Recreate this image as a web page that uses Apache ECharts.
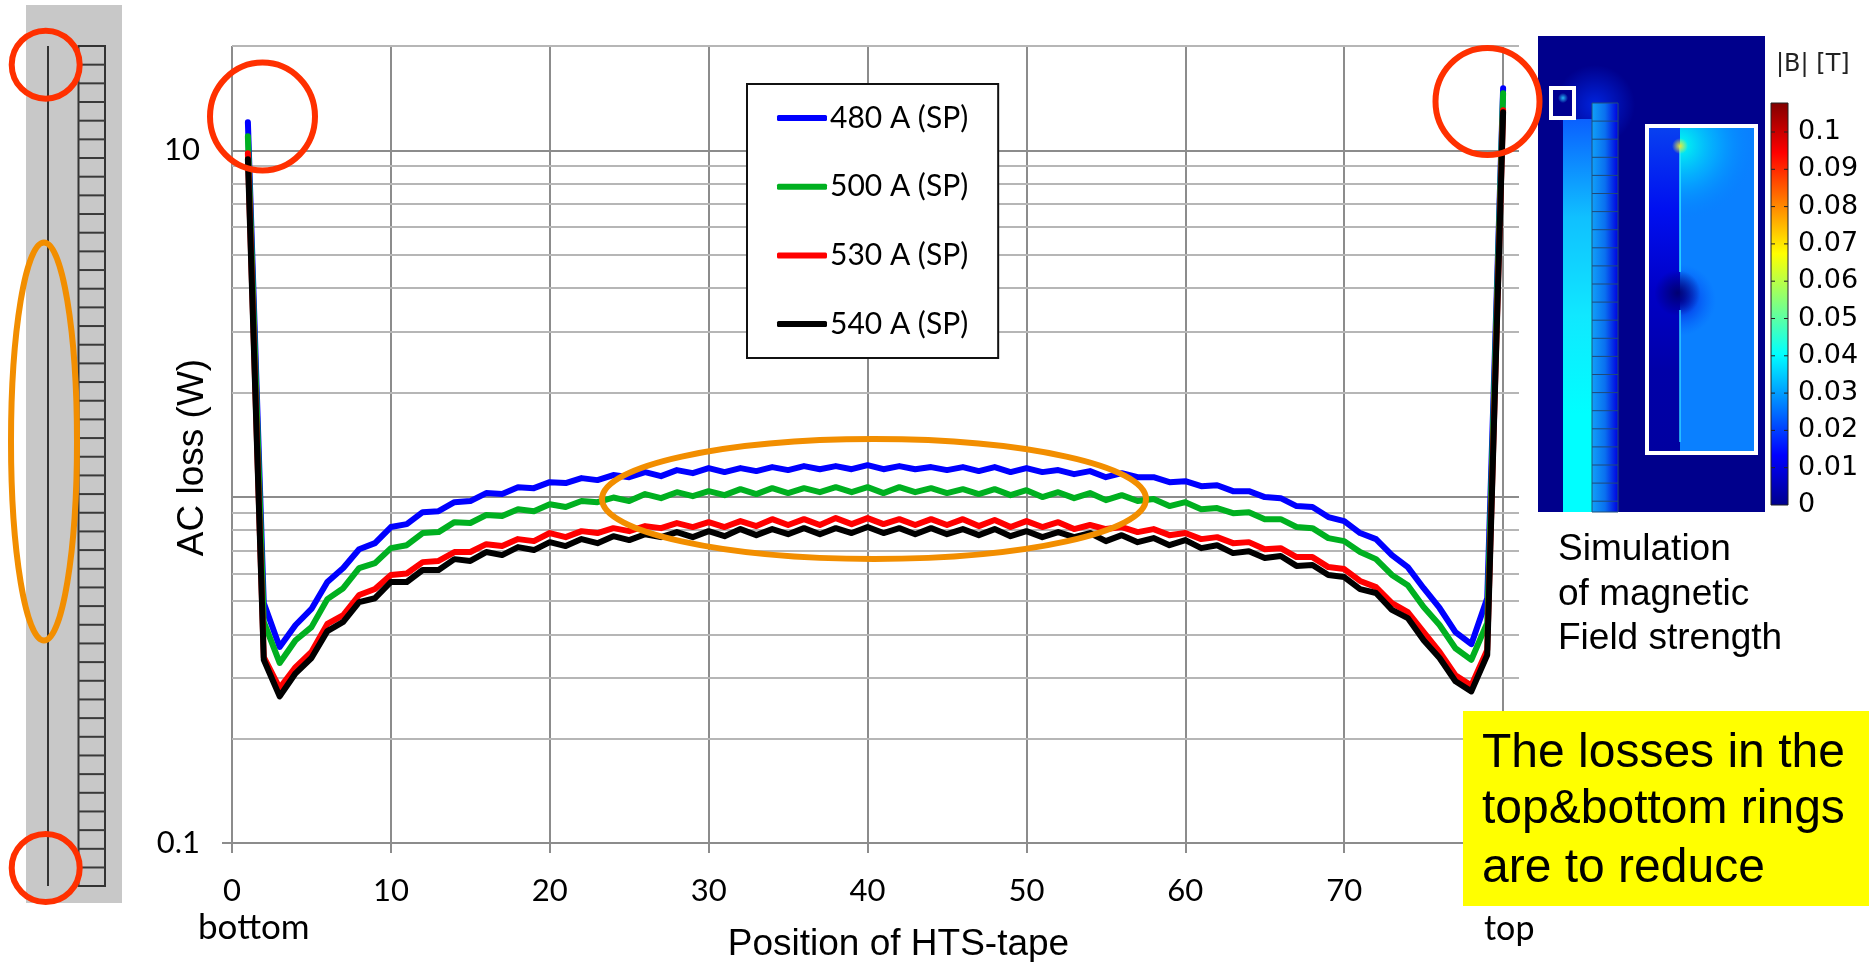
<!DOCTYPE html>
<html><head><meta charset="utf-8">
<style>html,body{margin:0;padding:0;background:#fff}#c{width:1869px;height:962px}</style>
<script src="https://cdn.jsdelivr.net/npm/echarts@6/dist/echarts.min.js"></script>
</head><body><div id="c"></div>
<script>
const seriesNames = ['480 A (SP)', '500 A (SP)', '530 A (SP)', '540 A (SP)'];
const seriesColors = ['#0000ff', '#00b020', '#ff0000', '#000000'];
const xTicks = [0, 10, 20, 30, 40, 50, 60, 70, 80];
const yLabelled = [0.1, 10];
const yMinorGrid = [0.2, 0.3, 0.4, 0.5, 0.6, 0.7, 0.8, 0.9, 2, 3, 4, 5, 6, 7, 8, 9, 20];
const colorbarLabels = ['0.1', '0.09', '0.08', '0.07', '0.06', '0.05', '0.04', '0.03', '0.02', '0.01', '0'];

const loss480 = [12.05,.493,.368,.426,.474,.567,.622,.705,.734,.817,.833,.902,.908,.964,.971,1.024,1.017,1.065,1.058,1.101,
1.094,1.131,1.116,1.154,1.138,1.177,1.146,1.193,1.169,1.209,1.177,1.209,1.185,1.217,1.193,1.225,1.2,1.225,1.2,1.233,
1.2,1.225,1.2,1.217,1.193,1.217,1.185,1.217,1.177,1.209,1.177,1.193,1.161,1.185,1.138,1.169,1.138,1.138,1.101,1.108,
1.072,1.079,1.037,1.037,.997,.99,.939,.933,.873,.85,.785,.754,.678,.626,.544,.477,.406,.375,.509,15.1];
const loss500 = [10.97,.435,.331,.385,.42,.506,.544,.622,.643,.71,.724,.785,.79,.844,.839,.885,.879,.92,.908,.951,
.933,.971,.964,.994,.971,1.017,.99,1.03,1.003,1.037,1.01,1.051,1.017,1.058,1.024,1.058,1.03,1.065,1.03,1.065,
1.024,1.065,1.03,1.058,1.024,1.051,1.017,1.051,1.01,1.044,.997,1.03,.99,1.024,.977,1.01,.971,.984,.939,.964,
.92,.927,.896,.902,.861,.861,.817,.811,.759,.744,.692,.66,.594,.555,.48,.426,.365,.338,.432,14.6];
const loss530 = [9.8,.344,.28,.322,.356,.429,.455,.52,.541,.594,.6,.647,.652,.692,.692,.729,.72,.754,.744,.785,
.764,.795,.785,.811,.795,.822,.811,.839,.817,.844,.817,.85,.822,.861,.828,.861,.828,.867,.833,.867,
.833,.861,.828,.861,.828,.861,.822,.856,.817,.85,.817,.844,.806,.828,.806,.817,.79,.806,.774,.785,
.754,.764,.734,.739,.705,.71,.669,.669,.626,.618,.571,.548,.493,.464,.406,.356,.305,.285,.361,13.05];
const loss540 = [9.42,.338,.265,.309,.342,.409,.435,.496,.509,.567,.567,.614,.614,.66,.652,.692,.678,.715,.701,.739,
.72,.754,.734,.769,.749,.779,.764,.79,.764,.795,.769,.806,.774,.806,.779,.811,.779,.811,.785,.817,
.785,.811,.779,.811,.779,.806,.774,.806,.769,.795,.764,.79,.764,.785,.744,.774,.739,.759,.724,.749,
.71,.724,.687,.696,.665,.674,.631,.635,.594,.586,.541,.527,.471,.446,.385,.342,.293,.274,.349,12.87];
const allLoss = [loss480, loss500, loss530, loss540];

const SANS = '"Liberation Sans", Arial, sans-serif';
const CAL = 'Lato, sans-serif';

function rect(x, y, w, h, fill, extra) {
  return Object.assign({type: 'rect', z: 50, silent: true, shape: {x, y, width: w, height: h}, style: {fill}}, extra || {});
}
function seg(x1, y1, x2, y2, stroke, lineWidth, z) {
  return {type: 'line', z: z || 50, silent: true, shape: {x1, y1, x2, y2}, style: {stroke, lineWidth}};
}
function ell(cx, cy, rx, ry, stroke) {
  return {type: 'ellipse', z: 60, silent: true, shape: {cx, cy, rx, ry}, style: {fill: 'transparent', stroke, lineWidth: 6}};
}
function txt(text, x, y, font, size, extra) {
  return {type: 'text', z: 55, silent: true, x, y,
    style: Object.assign({text, fontFamily: font, fontSize: size, fill: '#000', verticalAlign: 'middle'}, extra || {})};
}
const hGrad = (stops) => ({type: 'linear', x: 0, y: 0, x2: 1, y2: 0, colorStops: stops.map((c, i) => ({offset: i / (stops.length - 1), color: c}))});
const vGrad = (stops) => ({type: 'linear', x: 0, y: 0, x2: 0, y2: 1, colorStops: stops.map((c, i) => ({offset: i / (stops.length - 1), color: c}))});
const glow = (c) => ({type: 'radial', x: .5, y: .5, r: .5, colorStops: [{offset: 0, color: c}, {offset: 1, color: c.replace(/,[\d.]+\)$/, ',0)')}]});

const g = [];
// left sketch of the coil
g.push(rect(26, 5, 96, 898, '#c8c8c8', {z: 40}));
g.push(seg(48, 46, 48, 886, '#333', 2, 41));
g.push(rect(78.5, 46, 26.5, 840, 'transparent', {z: 41, style: {fill: 'transparent', stroke: '#333', lineWidth: 2}}));
for (let i = 1; i < 45; i++) g.push(seg(78, 46 + i * 18.67, 105, 46 + i * 18.67, '#3a3a3a', 2, 41));
g.push(ell(45.7, 64.7, 34, 34, '#ff3000'));
g.push(ell(45.7, 868, 34, 34, '#ff3000'));
g.push(ell(44, 441.5, 33, 199, '#f28e00'));
// chart annotations
g.push(seg(222, 843, 232, 843, '#8c8c8c', 2, 5));
g.push(ell(262.5, 116.5, 52.5, 54, '#ff3000'));
g.push(ell(1487.5, 101.5, 52, 53.5, '#ff3000'));
g.push(ell(874, 499, 272, 60, '#f28e00'));
g.push(txt('bottom', 198, 928, CAL, 35));
g.push(txt('top', 1484, 929, CAL, 34));
// simulation panel
g.push(rect(1538, 36, 227, 476, '#00008c'));
g.push(rect(1555, 65, 80, 80, glow('rgba(0,50,255,0.7)')));
g.push(rect(1563, 119, 29, 393, vGrad(['#0a60ff', '#10c0ff', '#10e8ff', '#00ffff', '#00ffff'])));
g.push(rect(1592, 103, 26, 409, hGrad(['#10a0f8', '#0a70f0', '#0000e0'])));
g.push(rect(1592, 103, 26, 409, 'transparent', {style: {fill: 'transparent', stroke: '#20507a', lineWidth: 1}}));
for (let i = 1; i < 23; i++) g.push(seg(1592, 103 + i * 18.1, 1618, 103 + i * 18.1, '#204a78', 1));
g.push(rect(1551, 88, 23, 30, '#000090', {style: {fill: '#000090', stroke: '#fff', lineWidth: 4}}));
g.push(rect(1558, 90, 10, 16, glow('rgba(40,200,255,0.9)')));
g.push(rect(1647, 126, 109, 327, '#0a80ff'));
g.push(rect(1680, 126, 76, 240, {type: 'radial', x: 0, y: .08, r: 1, colorStops: [{offset: 0, color: 'rgba(0,255,240,1)'}, {offset: .5, color: 'rgba(0,200,255,0.5)'}, {offset: 1, color: 'rgba(0,130,255,0)'}]}));
g.push(rect(1680, 240, 40, 150, {type: 'radial', x: 0, y: .4, r: .9, colorStops: [{offset: 0, color: 'rgba(0,0,200,0.9)'}, {offset: 1, color: 'rgba(0,80,255,0)'}]}));
g.push(rect(1649, 128, 31, 323, vGrad(['#0840f0', '#0010f0', '#0000c8', '#0000a8', '#0000a0'])));
g.push(rect(1650, 270, 55, 46, glow('rgba(0,0,110,0.95)')));
g.push(seg(1680, 146, 1680, 272, '#30e8ff', 1.5));
g.push(seg(1680, 310, 1680, 442, '#30d0ff', 1.5));
g.push(rect(1672, 136, 16, 20, glow('rgba(230,230,60,1)')));
g.push(rect(1647, 126, 109, 327, 'transparent', {style: {fill: 'transparent', stroke: '#fff', lineWidth: 4}}));
// colorbar
const jet = vGrad(['#800000', '#ff0000', '#ff8000', '#ffff00', '#80ff80', '#00ffff', '#0080ff', '#0000ff', '#00008c']);
g.push(rect(1771, 103, 17, 402, jet, {style: {fill: jet, stroke: '#222', lineWidth: 1}}));
colorbarLabels.forEach((t, i) => {
  const y = 132 + i * 37.3;
  g.push(txt(t, 1798, y, '"DejaVu Sans"', 27));
  if (i < 10) { g.push(seg(1784, y, 1788, y, '#222', 1)); g.push(seg(1771, y, 1775, y, '#222', 1)); }
});
g.push(txt('|B| [T]', 1776, 65, '"DejaVu Sans"', 24, {fill: '#222'}));
g.push(txt('Simulation', 1558, 550, SANS, 37));
g.push(txt('of magnetic', 1558, 595, SANS, 37));
g.push(txt('Field strength', 1558, 639, SANS, 37));
// yellow note
g.push(rect(1463, 711, 406, 195, '#ffff00'));
g.push(txt('The losses in the', 1482, 754, SANS, 48));
g.push(txt('top&bottom rings', 1482, 810, SANS, 48));
g.push(txt('are to reduce', 1482, 869, SANS, 48));

const series = seriesNames.map((name, i) => ({
  name, type: 'line', color: seriesColors[i], showSymbol: false, symbol: 'none', clip: false,
  z: 10 + i,
  lineStyle: {width: 6, color: seriesColors[i], cap: 'round', join: 'round'},
  data: allLoss[i].map((v, k) => [k + 1, v])
}));
series.push({
  name: 'minor grid', type: 'line', data: [], z: 1, silent: true,
  markLine: {silent: true, z: 1, symbol: 'none', animation: false, label: {show: false},
    lineStyle: {color: '#b6b6b6', width: 2, type: 'solid'},
    data: yMinorGrid.map(v => ({yAxis: v}))}
});

const chart = echarts.init(document.getElementById('c'), null, {renderer: 'canvas'});
chart.setOption({
  animation: false,
  backgroundColor: '#fff',
  grid: {left: 232, top: 46, width: 1287, height: 797, containLabel: false, outerBoundsMode: 'none'},
  legend: {
    data: seriesNames, orient: 'vertical', left: 747, top: 84, icon: 'roundRect', z: 20,
    itemWidth: 50, itemHeight: 6, itemGap: 36.7, padding: [18, 30, 18, 30],
    backgroundColor: '#fff', borderColor: '#111', borderWidth: 2, borderRadius: 0,
    selectedMode: false, textStyle: {fontFamily: CAL, fontSize: 30, color: '#000', lineHeight: 32, padding: [0, 0, 0, -2]}
  },
  xAxis: {
    type: 'value', min: 0, max: 81, interval: 10,
    name: 'Position of HTS-tape', nameLocation: 'middle', nameGap: 83, nameMoveOverlap: false,
    nameTextStyle: {fontFamily: SANS, fontSize: 37, color: '#000', padding: [0, 0, 0, 46]},
    axisLine: {show: true, onZero: false, lineStyle: {color: '#8c8c8c', width: 2}},
    axisTick: {show: true, length: 10, customValues: xTicks, lineStyle: {color: '#8c8c8c', width: 2}},
    axisLabel: {customValues: xTicks, margin: 32, fontFamily: CAL, fontSize: 31, color: '#000'},
    splitLine: {show: true, lineStyle: {color: '#8c8c8c', width: 2}}
  },
  yAxis: {
    type: 'log', logBase: 10, min: 0.1, max: 20,
    name: 'AC loss (W)', nameLocation: 'middle', nameGap: 21, nameRotate: 90, nameMoveOverlap: false,
    nameTextStyle: {fontFamily: SANS, fontSize: 37, color: '#000', padding: [0, 26, 0, 0]},
    axisLine: {show: false}, axisTick: {show: false},
    axisLabel: {margin: 32, fontFamily: CAL, fontSize: 31, color: '#000', showMinLabel: true,
      formatter: v => yLabelled.some(u => Math.abs(u - v) < 1e-6) ? String(+v.toFixed(1)) : ''},
    splitLine: {show: true, lineStyle: {color: '#8c8c8c', width: 2}},
    minorTick: {show: false}, minorSplitLine: {show: false}
  },
  series,
  graphic: g
});
</script></body></html>
